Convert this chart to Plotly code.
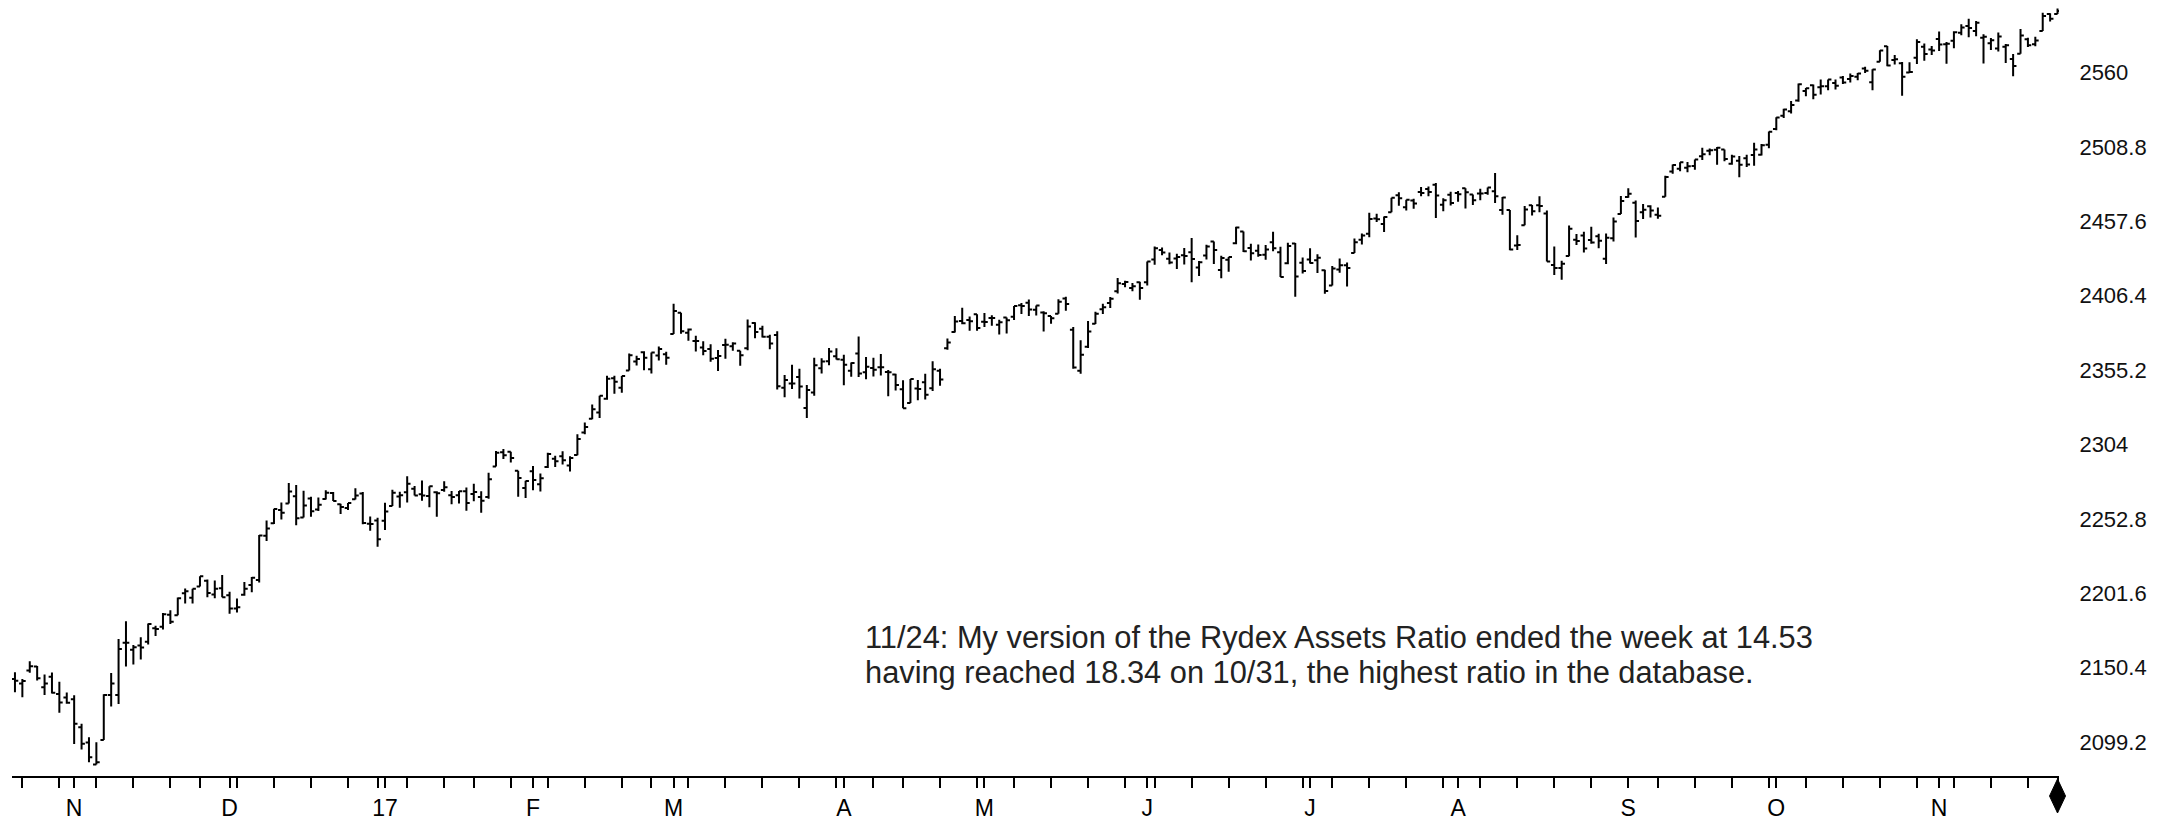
import pandas as pd
import plotly.graph_objects as go

# ---------------- data (S&P 500 daily bars) ----------------
START, END = "2016-10-20", "2017-11-24"
HOLIDAYS = ["2016-11-24", "2016-12-26", "2017-01-02", "2017-01-16", "2017-02-20",
            "2017-04-14", "2017-05-29", "2017-07-04", "2017-09-04", "2017-11-23"]

OPEN = [
    # Oct 2016
    2142.51, 2139.43, 2148.50, 2151.14, 2136.97, 2144.06, 2132.23, 2129.78,
    # Nov 2016
    2128.68, 2109.43, 2098.80, 2083.79, 2100.59, 2131.56, 2131.56, 2167.49, 2162.71, 2165.64, 2168.29,
    2177.53, 2178.61, 2186.85, 2186.43, 2201.56, 2198.55, 2206.27, 2210.21, 2200.76, 2204.97,
    # Dec 2016
    2200.17, 2191.12, 2200.65, 2207.26, 2210.72, 2241.13, 2249.73, 2258.83, 2263.32, 2268.35, 2253.77,
    2266.81, 2259.24, 2266.50, 2270.54, 2262.93, 2260.25, 2266.23, 2270.23, 2249.50, 2251.61,
    # Jan 2017
    2251.57, 2261.60, 2268.18, 2271.14, 2273.59, 2269.72, 2268.60, 2271.14, 2272.74, 2269.14,
    2269.14, 2271.90, 2269.96, 2267.78, 2267.88, 2288.88, 2298.63, 2299.02, 2286.01, 2274.02,
    # Feb 2017
    2285.59, 2276.69, 2288.54, 2294.28, 2295.87, 2289.55, 2296.70, 2312.27, 2321.72, 2326.12,
    2335.58, 2349.64, 2343.01, 2354.91, 2361.11, 2367.50, 2355.73, 2365.23, 2366.08,
    # Mar 2017
    2380.13, 2394.75, 2380.92, 2375.23, 2370.74, 2369.81, 2363.49, 2372.52, 2371.56, 2368.55, 2370.34,
    2387.71, 2383.71, 2378.24, 2379.32, 2343.00, 2345.97, 2350.42, 2329.11, 2339.79, 2356.54, 2361.31, 2364.82,
    # Apr 2017
    2362.34, 2354.76, 2366.59, 2353.79, 2356.59, 2357.16, 2353.92, 2352.15, 2341.98, 2332.62,
    2342.53, 2346.79, 2342.69, 2354.74, 2370.33, 2381.51, 2388.98, 2389.70, 2393.68,
    # May 2017
    2388.50, 2391.05, 2386.50, 2391.36, 2391.90, 2399.94, 2401.58, 2396.79, 2394.84, 2392.44, 2393.98,
    2404.55, 2382.95, 2354.69, 2371.37, 2387.21, 2397.04, 2401.41, 2409.54, 2414.50, 2411.67, 2415.63,
    # Jun 2017
    2415.65, 2431.28, 2437.83, 2431.92, 2432.03, 2434.27, 2436.39, 2425.88, 2434.15, 2443.75, 2424.14,
    2431.24, 2442.55, 2450.66, 2439.31, 2437.40, 2434.65, 2443.32, 2436.34, 2428.70, 2442.38, 2429.20,
    # Jul 2017
    2431.39, 2430.78, 2423.95, 2413.52, 2424.51, 2427.35, 2435.75, 2444.99, 2449.16, 2459.50,
    2455.88, 2463.85, 2475.56, 2467.40, 2472.04, 2477.88, 2479.97, 2482.76, 2469.12, 2475.94,
    # Aug 2017
    2477.10, 2480.38, 2476.03, 2476.88, 2477.14, 2478.35, 2465.35, 2465.38, 2441.04, 2454.96, 2468.66,
    2468.63, 2462.95, 2427.64, 2425.50, 2433.75, 2444.88, 2447.91, 2444.72, 2447.35, 2431.94, 2446.06, 2462.65,
    # Sep 2017
    2474.42, 2470.35, 2463.83, 2468.06, 2462.25, 2474.52, 2491.94, 2493.89, 2494.56, 2495.67,
    2502.51, 2506.29, 2506.84, 2507.16, 2497.26, 2499.39, 2501.04, 2503.30, 2503.41, 2510.34,
    # Oct 2017
    2521.20, 2530.34, 2533.48, 2540.86, 2547.44, 2551.39, 2549.99, 2550.62, 2552.88, 2556.73, 2555.57,
    2557.17, 2562.87, 2553.39, 2567.56, 2578.08, 2568.66, 2566.52, 2560.08, 2570.26, 2577.75, 2575.99,
    # Nov 2017
    2583.21, 2579.46, 2581.93, 2587.47, 2592.11, 2588.71, 2584.00, 2580.18, 2576.53, 2577.75,
    2569.45, 2572.95, 2582.94, 2579.49, 2588.71, 2600.31, 2600.42,
]

HIGH = [
    2147.18, 2142.63, 2154.79, 2151.44, 2145.73, 2147.13, 2140.72, 2133.25,
    2131.45, 2111.76, 2102.56, 2099.07, 2132.00, 2146.79, 2170.10, 2182.30, 2165.92, 2171.36, 2180.84,
    2179.22, 2188.06, 2189.89, 2198.70, 2204.80, 2204.72, 2213.35, 2211.14, 2210.46, 2214.10,
    2202.60, 2197.95, 2209.42, 2212.78, 2241.63, 2251.69, 2259.80, 2264.03, 2277.53, 2276.20, 2272.12,
    2268.05, 2267.47, 2272.56, 2271.23, 2263.18, 2263.79, 2273.82, 2271.31, 2254.51, 2253.58,
    2263.88, 2272.82, 2271.50, 2282.10, 2275.49, 2279.27, 2275.32, 2271.78, 2278.68, 2272.08,
    2272.01, 2274.33, 2276.96, 2271.78, 2284.63, 2299.55, 2300.99, 2299.02, 2286.01, 2279.09,
    2289.14, 2283.97, 2298.31, 2296.18, 2299.40, 2295.91, 2311.08, 2319.23, 2331.58, 2337.58,
    2351.30, 2351.31, 2351.16, 2366.71, 2365.13, 2368.26, 2367.34, 2371.54, 2367.79,
    2400.98, 2394.75, 2383.89, 2378.80, 2375.12, 2373.09, 2369.08, 2376.86, 2374.42, 2368.55, 2390.01,
    2388.10, 2385.71, 2379.55, 2381.93, 2351.81, 2358.92, 2356.22, 2344.90, 2363.78, 2363.36, 2370.42, 2370.35,
    2365.87, 2360.53, 2378.36, 2364.16, 2363.76, 2366.37, 2355.22, 2352.72, 2348.26, 2349.14,
    2348.35, 2352.63, 2361.37, 2356.18, 2376.98, 2392.48, 2398.16, 2392.10, 2393.68,
    2394.49, 2392.93, 2389.82, 2391.43, 2399.29, 2401.36, 2403.87, 2399.74, 2395.72, 2392.44, 2404.05,
    2405.77, 2384.87, 2375.74, 2389.06, 2395.46, 2400.85, 2405.58, 2418.71, 2416.68, 2415.26, 2415.99,
    2430.06, 2440.23, 2439.55, 2436.21, 2435.28, 2439.27, 2446.20, 2430.38, 2441.49, 2443.75, 2433.95,
    2433.15, 2453.82, 2450.66, 2442.23, 2441.62, 2441.40, 2450.42, 2440.15, 2442.97, 2442.73, 2432.71,
    2439.17, 2434.90, 2424.28, 2426.92, 2432.00, 2429.30, 2445.76, 2449.32, 2463.54, 2462.82,
    2460.92, 2473.83, 2477.62, 2472.54, 2473.10, 2481.24, 2481.69, 2484.04, 2473.53, 2477.96,
    2478.51, 2480.38, 2476.03, 2480.00, 2480.95, 2490.87, 2474.41, 2465.38, 2448.09, 2468.22, 2468.90,
    2474.93, 2465.02, 2440.27, 2430.58, 2454.77, 2448.91, 2450.39, 2453.96, 2449.12, 2449.19, 2460.31, 2475.01,
    2480.38, 2471.97, 2469.64, 2468.62, 2467.11, 2488.95, 2496.77, 2498.37, 2498.43, 2500.23,
    2508.32, 2507.84, 2508.85, 2507.16, 2503.47, 2502.54, 2503.51, 2511.75, 2510.81, 2519.44,
    2529.23, 2535.13, 2540.53, 2552.51, 2549.41, 2551.82, 2555.23, 2555.24, 2555.33, 2557.65, 2559.47,
    2559.71, 2564.11, 2562.36, 2575.44, 2578.29, 2572.18, 2567.40, 2567.07, 2582.98, 2580.03, 2578.29,
    2588.40, 2581.11, 2588.42, 2593.38, 2597.02, 2595.47, 2586.50, 2583.81, 2587.66, 2579.66,
    2572.84, 2590.09, 2583.96, 2584.64, 2601.19, 2600.94, 2604.21,
]

LOW = [
    2133.44, 2130.09, 2146.91, 2141.54, 2131.59, 2132.52, 2119.36, 2125.53,
    2097.85, 2094.00, 2085.23, 2083.79, 2100.59, 2123.56, 2125.35, 2151.17, 2152.49, 2156.08, 2166.38,
    2172.20, 2176.65, 2180.38, 2186.43, 2194.51, 2194.51, 2206.27, 2198.81, 2198.15, 2198.81,
    2187.44, 2188.37, 2199.97, 2202.21, 2208.93, 2237.57, 2249.23, 2252.37, 2263.32, 2248.44, 2253.77,
    2254.24, 2258.21, 2266.14, 2265.15, 2256.08, 2258.84, 2266.15, 2249.11, 2244.56, 2233.62,
    2245.13, 2261.60, 2260.45, 2264.06, 2268.90, 2265.27, 2260.83, 2254.25, 2271.51, 2262.81,
    2263.35, 2258.41, 2265.01, 2257.02, 2266.68, 2288.88, 2294.08, 2291.62, 2268.04, 2267.21,
    2272.44, 2271.65, 2287.88, 2288.57, 2290.16, 2285.38, 2296.61, 2311.10, 2321.42, 2322.17,
    2334.81, 2338.87, 2339.58, 2354.91, 2358.34, 2355.09, 2352.87, 2361.87, 2358.96,
    2380.13, 2380.17, 2375.39, 2367.98, 2365.51, 2361.01, 2354.54, 2363.04, 2368.52, 2358.18, 2368.94,
    2377.18, 2377.64, 2369.66, 2341.90, 2336.45, 2342.13, 2335.74, 2322.25, 2337.63, 2352.94, 2358.58, 2362.60,
    2344.73, 2350.72, 2350.52, 2348.90, 2350.74, 2351.50, 2337.25, 2341.18, 2328.95, 2332.51,
    2334.54, 2335.05, 2340.91, 2344.51, 2369.19, 2381.15, 2386.78, 2382.36, 2382.36,
    2384.83, 2385.82, 2379.75, 2380.35, 2389.74, 2393.92, 2392.44, 2392.79, 2381.74, 2387.19, 2393.94,
    2396.05, 2356.21, 2352.72, 2370.43, 2386.92, 2393.88, 2397.99, 2408.01, 2412.20, 2409.43, 2403.59,
    2413.54, 2427.71, 2434.32, 2428.12, 2424.75, 2427.94, 2415.70, 2419.97, 2431.28, 2428.34, 2418.53,
    2422.88, 2441.79, 2436.60, 2430.74, 2433.27, 2431.11, 2437.03, 2419.38, 2428.02, 2405.70, 2421.65,
    2428.69, 2422.05, 2407.70, 2413.52, 2422.27, 2412.79, 2435.75, 2441.69, 2446.69, 2457.16,
    2450.34, 2463.85, 2468.43, 2465.06, 2466.32, 2474.91, 2474.94, 2459.93, 2464.66, 2468.53,
    2471.14, 2466.48, 2468.85, 2472.08, 2475.88, 2470.32, 2462.08, 2437.75, 2437.85, 2454.96, 2461.61,
    2463.86, 2430.01, 2420.69, 2417.35, 2433.67, 2441.42, 2436.19, 2442.22, 2439.03, 2428.20, 2443.77, 2462.65,
    2473.85, 2446.55, 2459.20, 2460.29, 2459.40, 2474.52, 2490.37, 2492.14, 2491.35, 2493.16,
    2499.92, 2503.19, 2496.67, 2499.00, 2496.54, 2488.03, 2495.12, 2495.91, 2502.93, 2507.99,
    2520.40, 2528.85, 2531.80, 2540.02, 2543.79, 2541.60, 2544.86, 2547.95, 2548.31, 2552.09, 2553.21,
    2554.69, 2559.67, 2547.92, 2567.56, 2564.33, 2565.58, 2544.00, 2559.80, 2565.94, 2568.25, 2572.15,
    2574.92, 2566.17, 2576.77, 2585.66, 2584.35, 2585.02, 2566.33, 2575.57, 2574.48, 2566.56,
    2557.45, 2572.95, 2577.62, 2578.24, 2588.71, 2595.23, 2600.42,
]

CLOSE = [
    2141.34, 2141.16, 2151.33, 2143.16, 2139.43, 2133.04, 2126.41, 2126.15,
    2111.72, 2097.94, 2088.66, 2085.18, 2131.52, 2139.56, 2163.26, 2167.48, 2164.45, 2164.20, 2180.39,
    2176.94, 2187.12, 2181.90, 2198.18, 2202.94, 2204.72, 2213.35, 2201.72, 2204.66, 2198.81,
    2191.08, 2191.95, 2204.71, 2212.23, 2241.35, 2246.19, 2259.53, 2256.96, 2271.72, 2253.28, 2262.03,
    2258.07, 2262.53, 2270.76, 2265.18, 2260.96, 2263.79, 2268.88, 2249.92, 2249.26, 2238.83,
    2257.83, 2270.75, 2269.00, 2276.98, 2268.90, 2268.90, 2275.32, 2270.44, 2274.64, 2267.89,
    2271.89, 2263.69, 2271.31, 2265.20, 2280.07, 2298.37, 2296.68, 2294.69, 2280.90, 2278.87,
    2279.55, 2280.85, 2297.42, 2292.56, 2293.08, 2294.67, 2307.87, 2316.10, 2328.25, 2337.58,
    2349.25, 2347.22, 2351.16, 2365.38, 2362.82, 2363.81, 2367.34, 2369.75, 2363.64,
    2395.96, 2381.92, 2383.12, 2375.31, 2368.39, 2362.98, 2364.87, 2372.60, 2373.47, 2365.45, 2385.26,
    2381.38, 2378.25, 2373.47, 2344.02, 2348.45, 2345.96, 2343.98, 2341.59, 2358.57, 2361.13, 2368.06, 2362.72,
    2358.84, 2360.16, 2352.95, 2357.49, 2355.54, 2357.16, 2353.78, 2344.93, 2328.95, 2349.01,
    2342.19, 2338.17, 2355.84, 2348.69, 2374.15, 2388.61, 2387.45, 2388.77, 2384.20,
    2388.33, 2391.17, 2388.13, 2389.52, 2399.29, 2399.38, 2396.92, 2399.63, 2394.44, 2390.90, 2402.32,
    2400.67, 2357.03, 2365.72, 2381.73, 2394.02, 2398.42, 2404.39, 2415.07, 2415.82, 2412.91, 2411.80,
    2430.06, 2439.07, 2436.10, 2429.33, 2433.14, 2433.79, 2431.77, 2429.39, 2440.35, 2437.92, 2432.46,
    2433.15, 2453.46, 2437.03, 2435.61, 2434.50, 2438.30, 2439.07, 2419.38, 2440.69, 2419.70, 2423.41,
    2429.01, 2432.54, 2409.75, 2425.18, 2427.43, 2425.53, 2443.25, 2447.83, 2459.27, 2459.14,
    2460.61, 2473.83, 2473.45, 2472.54, 2469.91, 2477.13, 2477.83, 2475.42, 2472.10, 2470.30,
    2476.35, 2477.57, 2472.16, 2476.83, 2480.91, 2474.92, 2474.02, 2438.21, 2441.32, 2465.84, 2464.61,
    2468.11, 2430.01, 2425.55, 2428.37, 2452.51, 2444.04, 2438.97, 2443.05, 2444.24, 2446.30, 2457.59, 2471.65,
    2476.55, 2457.85, 2465.54, 2465.10, 2461.43, 2488.11, 2496.48, 2498.37, 2495.62, 2500.23,
    2503.87, 2506.65, 2508.24, 2500.60, 2502.22, 2496.66, 2496.84, 2507.04, 2510.06, 2519.36,
    2529.12, 2534.58, 2537.74, 2552.07, 2549.33, 2544.73, 2550.64, 2555.24, 2550.93, 2553.17, 2557.64,
    2559.36, 2561.26, 2562.10, 2575.21, 2564.98, 2569.13, 2557.15, 2560.40, 2581.07, 2572.83, 2575.26,
    2579.36, 2579.85, 2587.84, 2591.13, 2590.64, 2594.38, 2584.62, 2582.30, 2584.84, 2578.87,
    2564.62, 2585.64, 2578.85, 2582.14, 2599.03, 2597.08, 2602.42,
]

MONTH_LABELS = ["N", "D", "17", "F", "M", "A", "M", "J", "J", "A", "S", "O", "N"]
Y_TICK_VALUES = [2099.2, 2150.4, 2201.6, 2252.8, 2304.0, 2355.2, 2406.4, 2457.6, 2508.8, 2560.0]
Y_TICK_TEXT = ["2099.2", "2150.4", "2201.6", "2252.8", "2304", "2355.2", "2406.4", "2457.6", "2508.8", "2560"]
NOTE_LINES = [
    "11/24: My version of the Rydex Assets Ratio ended the week at 14.53",
    "having reached 18.34 on 10/31, the highest ratio in the database.",
]

# ---------------- build ----------------
dates = pd.bdate_range(START, END)
dates = dates[~dates.isin(pd.to_datetime(HOLIDAYS))]
assert len(dates) == len(OPEN) == len(HIGH) == len(LOW) == len(CLOSE), (
    len(dates), len(OPEN), len(HIGH), len(LOW), len(CLOSE))
pos = list(range(len(dates)))

tickvals, ticktext = [], []
mi = 0
for i, d in enumerate(dates):
    month_start = i > 0 and dates[i - 1].month != d.month
    week_end = i == len(dates) - 1 or dates[i + 1].isocalendar()[1] != d.isocalendar()[1]
    if month_start:
        tickvals.append(i)
        ticktext.append(MONTH_LABELS[mi])
        mi += 1
    elif week_end:
        tickvals.append(i)
        ticktext.append("")

X_RANGE = [-0.4, len(pos) - 1 + 0.2]
Y_RANGE = [2075.8, 2610.0]
FONT = "Liberation Sans, Arial, sans-serif"
W, H = 2175, 820
M = dict(l=12, r=116, t=0, b=44)

fig = go.Figure()
fig.add_trace(go.Ohlc(
    x=pos, open=OPEN, high=HIGH, low=LOW, close=CLOSE,
    increasing=dict(line=dict(color="black", width=2)),
    decreasing=dict(line=dict(color="black", width=2)),
    tickwidth=0.45, hoverinfo="skip", showlegend=False,
))

# end-of-axis diamond marker under the last bar (paper coordinates)
plot_w = W - M["l"] - M["r"]
plot_h = H - M["t"] - M["b"]
cx = (pos[-1] - X_RANGE[0]) / (X_RANGE[1] - X_RANGE[0])
hw, hh = 8.0 / plot_w, 17.0 / plot_h
cy = -20.0 / plot_h
fig.add_shape(
    type="path", xref="paper", yref="paper",
    path=f"M {cx},{cy + hh} L {cx + hw},{cy} L {cx},{cy - hh} L {cx - hw},{cy} Z",
    fillcolor="black", line=dict(color="black", width=1),
)

for k, line in enumerate(NOTE_LINES):
    fig.add_annotation(
        xref="paper", yref="paper", x=0.4157, y=[0.178, 0.133][k],
        xanchor="left", yanchor="middle", text=line, showarrow=False,
        font=dict(family=FONT, size=30.8, color="#222222"),
    )

fig.update_layout(
    width=W, height=H,
    margin=dict(**M, pad=0),
    paper_bgcolor="white", plot_bgcolor="white",
    showlegend=False,
    font=dict(family=FONT, color="black"),
    xaxis=dict(
        range=X_RANGE,
        rangeslider=dict(visible=False),
        tickmode="array", tickvals=tickvals, ticktext=ticktext,
        ticks="outside", ticklen=10, tickwidth=2, tickcolor="black",
        showline=True, linecolor="black", linewidth=2,
        showgrid=False, zeroline=False,
        tickfont=dict(family=FONT, size=23, color="black"),
        fixedrange=True,
    ),
    yaxis=dict(
        range=Y_RANGE, side="right",
        tickmode="array", tickvals=Y_TICK_VALUES, ticktext=Y_TICK_TEXT,
        ticks="outside", ticklen=15, tickcolor="rgba(0,0,0,0)",
        showline=False, showgrid=False, zeroline=False,
        tickfont=dict(family=FONT, size=22, color="#111111"),
        fixedrange=True,
    ),
)

fig.write_html("out.html", config={"displayModeBar": False},
               post_script="document.body.style.margin='0';")
